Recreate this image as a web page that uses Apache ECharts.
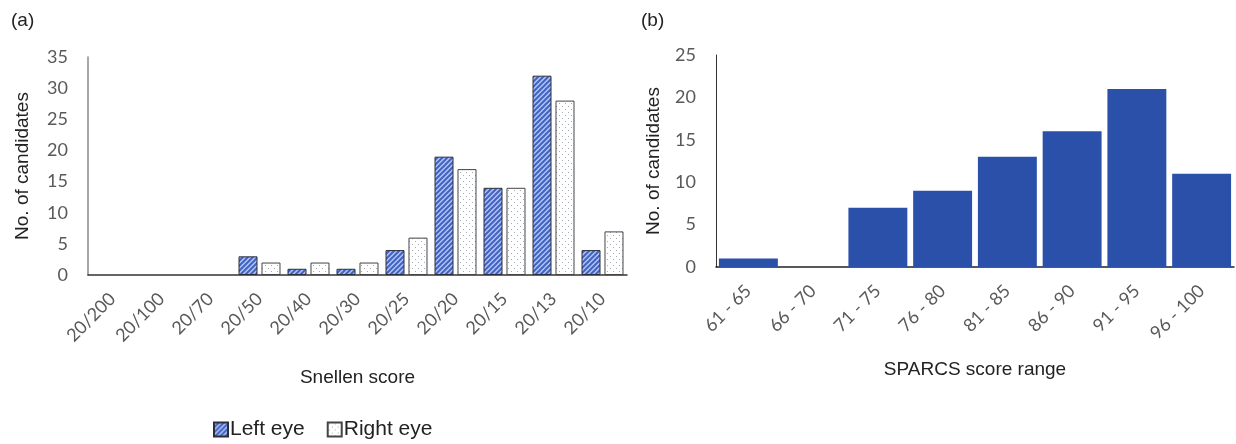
<!DOCTYPE html>
<html>
<head>
<meta charset="utf-8">
<script src="https://cdn.jsdelivr.net/npm/echarts@6/dist/echarts.min.js"></script>
<style>
  html, body { margin: 0; padding: 0; background: #fff; }
  #chart { width: 1236px; height: 444px; }
</style>
</head>
<body>
<div id="chart"></div>
<script>
// Panel (a): Snellen visual acuity per eye
const snellenScores = ['20/200', '20/100', '20/70', '20/50', '20/40', '20/30', '20/25', '20/20', '20/15', '20/13', '20/10'];
const leftEye  = [0, 0, 0, 3, 1, 1, 4, 19, 14, 32, 4];
const rightEye = [0, 0, 0, 2, 2, 2, 6, 17, 14, 28, 7];

// Panel (b): SPARCS score distribution
const sparcsRanges = ['61 - 65', '66 - 70', '71 - 75', '76 - 80', '81 - 85', '86 - 90', '91 - 95', '96 - 100'];
const sparcsCounts = [1, 0, 7, 9, 13, 16, 21, 11];

// Diagonal hatch fill for the left-eye bars
function hatchPattern() {
  const c = document.createElement('canvas');
  c.width = 5; c.height = 5;
  const g = c.getContext('2d');
  g.fillStyle = '#b0c5f2';
  g.fillRect(0, 0, 5, 5);
  g.strokeStyle = '#4263c4';
  g.lineWidth = 2;
  g.beginPath();
  g.moveTo(-1, 6); g.lineTo(6, -1);
  g.moveTo(-3.5, 3.5); g.lineTo(3.5, -3.5);
  g.moveTo(1.5, 8.5); g.lineTo(8.5, 1.5);
  g.stroke();
  return c;
}
// Dotted fill for the right-eye bars
function dotPattern() {
  const c = document.createElement('canvas');
  c.width = 6; c.height = 6;
  const g = c.getContext('2d');
  g.fillStyle = '#ffffff';
  g.fillRect(0, 0, 6, 6);
  g.fillStyle = '#a4aab4';
  g.fillRect(1, 1, 1, 1);
  g.fillRect(4, 4, 1, 1);
  return c;
}

// Empty categories get no outline, so zero counts leave the baseline bare
function withBareZeros(values, style) {
  return values.map(v => v === 0 ? { value: v, itemStyle: { borderWidth: 0 } } : { value: v, itemStyle: style });
}

const tickFont = { color: '#595959', fontSize: 18, fontFamily: 'Lato' };
const nameFont = { color: '#222', fontSize: 19, fontFamily: 'Liberation Sans' };

const hatchStyle = { color: { image: hatchPattern(), repeat: 'repeat' }, borderColor: '#2e2e3a', borderWidth: 1 };
const dotStyle = { color: { image: dotPattern(), repeat: 'repeat' }, borderColor: '#444', borderWidth: 1 };

const xLabel = { ...tickFont, rotate: 45, margin: 21, interval: 0 };

const chart = echarts.init(document.getElementById('chart'), null, { renderer: 'canvas' });
chart.setOption({
  animation: false,
  backgroundColor: '#ffffff',
  title: [
    { text: '(a)', left: 6, top: 6, textStyle: { ...nameFont, fontWeight: 'normal' } },
    { text: '(b)', left: 636, top: 6, textStyle: { ...nameFont, fontWeight: 'normal' } }
  ],
  legend: {
    data: ['Left eye', 'Right eye'],
    left: 208, top: 414,
    itemWidth: 14, itemHeight: 14, itemGap: 22,
    icon: 'rect',
    textStyle: { ...nameFont, fontSize: 21, padding: [0, 0, 0, -3] }
  },
  grid: [
    { left: 88, right: 609, top: 57, bottom: 169 },
    { left: 716, right: 2, top: 55, bottom: 177 }
  ],
  xAxis: [
    {
      type: 'category', gridIndex: 0, data: snellenScores,
      axisLine: { lineStyle: { color: '#333', width: 1.5 } },
      axisTick: { show: false },
      axisLabel: xLabel,
      name: 'Snellen score', nameLocation: 'middle', nameGap: 93, nameTextStyle: nameFont
    },
    {
      type: 'category', gridIndex: 1, data: sparcsRanges,
      axisLine: { lineStyle: { color: '#222', width: 1.5 } },
      axisTick: { show: false },
      axisLabel: xLabel,
      name: 'SPARCS score range', nameLocation: 'middle', nameGap: 93, nameTextStyle: nameFont
    }
  ],
  yAxis: [
    {
      type: 'value', gridIndex: 0, min: 0, max: 35, interval: 5,
      axisLine: { show: true, lineStyle: { color: '#8a8a8a', width: 1.5 } },
      axisTick: { show: false },
      splitLine: { show: false },
      axisLabel: { ...tickFont, margin: 20 },
      name: 'No. of candidates', nameLocation: 'middle', nameGap: 56, nameTextStyle: nameFont
    },
    {
      type: 'value', gridIndex: 1, min: 0, max: 25, interval: 5,
      axisLine: { show: true, lineStyle: { color: '#333', width: 1 } },
      axisTick: { show: false },
      splitLine: { show: false },
      axisLabel: { ...tickFont, margin: 20 },
      name: 'No. of candidates', nameLocation: 'middle', nameGap: 53, nameTextStyle: nameFont
    }
  ],
  series: [
    {
      name: 'Left eye', type: 'bar', xAxisIndex: 0, yAxisIndex: 0,
      data: withBareZeros(leftEye, hatchStyle),
      barWidth: 19, barGap: '21%',
      itemStyle: hatchStyle
    },
    {
      name: 'Right eye', type: 'bar', xAxisIndex: 0, yAxisIndex: 0,
      data: withBareZeros(rightEye, dotStyle),
      barWidth: 19, barGap: '21%',
      itemStyle: dotStyle
    },
    {
      name: 'SPARCS', type: 'bar', xAxisIndex: 1, yAxisIndex: 1, data: sparcsCounts,
      barCategoryGap: '9%',
      itemStyle: { color: '#2b50aa' }
    }
  ]
});
</script>
</body>
</html>
